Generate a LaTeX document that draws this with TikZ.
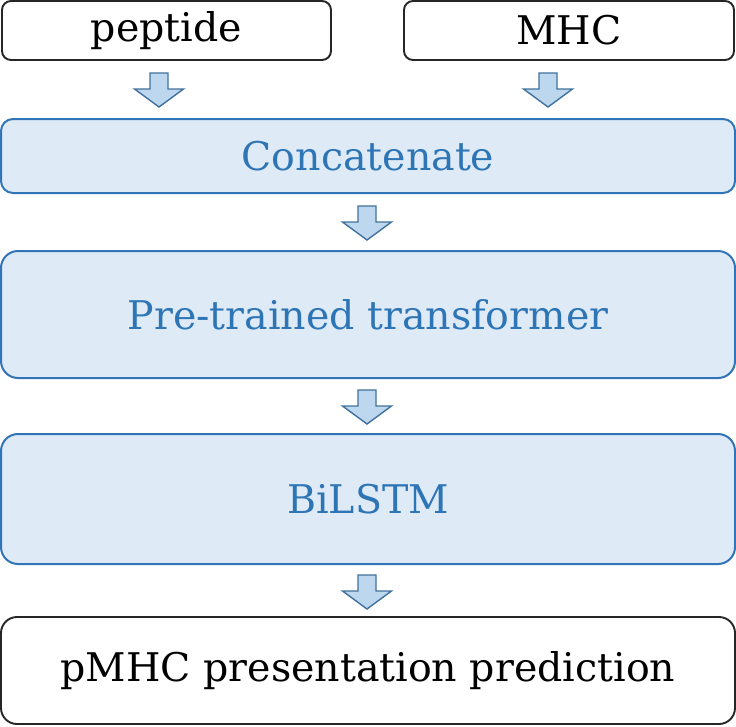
\documentclass[tikz,border=0pt]{standalone}
\usepackage{fontspec}
\setmainfont{DejaVu Serif}
\usetikzlibrary{positioning}
\definecolor{boxfill}{HTML}{DEEBF7}
\definecolor{boxline}{HTML}{3274B8}
\definecolor{boxtext}{HTML}{2E75B6}
\definecolor{arrfill}{HTML}{BDD7EE}
\definecolor{arrline}{HTML}{41719C}
\begin{document}
\begin{tikzpicture}[x=1pt,y=-1pt,
  txt/.style={font=\fontsize{39.5}{43}\selectfont},
  inbox/.style={draw=black!85, line width=1.9pt, fill=white, rounded corners=9pt},
  bluebox/.style={draw=boxline, line width=2pt, fill=boxfill, rounded corners=#1},
  outbox/.style={draw=black!85, line width=1.9pt, fill=white, rounded corners=16pt},
  barrow/.pic={\draw[draw=arrline, fill=arrfill, line width=1.4pt, line join=miter]
      (-9,0) -- (9,0) -- (9,16) -- (24.5,16) -- (0,34) -- (-24.5,16) -- (-9,16) -- cycle;}
]
\useasboundingbox (0,0) rectangle (736,726);
% boxes
\draw[inbox] (2,1) rectangle (331,60);
\node[txt] (pep) at (166.5,30.5) {peptide};
\draw[inbox] (404,1) rectangle (734,60);
\node[txt] (mhc) at (569,30.5) {MHC};
\draw[bluebox=12pt] (1,119) rectangle (735,193);
\node[txt, text=boxtext] (cat) at (368,156) {Concatenate};
\draw[bluebox=17pt] (1,251) rectangle (735,378);
\node[txt, text=boxtext] (ptt) at (368,314.5) {Pre-trained transformer};
\draw[bluebox=17pt] (1,434) rectangle (735,564);
\node[txt, text=boxtext] (bil) at (368,499) {BiLSTM};
\draw[outbox] (1,617) rectangle (735,724);
\node[txt] (out) at (368,670.5) {pMHC presentation prediction};
% arrows
\pic at (159,73) {barrow};
\pic at (548,73) {barrow};
\pic at (367,206) {barrow};
\pic at (367,390) {barrow};
\pic at (367,575) {barrow};
\end{tikzpicture}
\end{document}
